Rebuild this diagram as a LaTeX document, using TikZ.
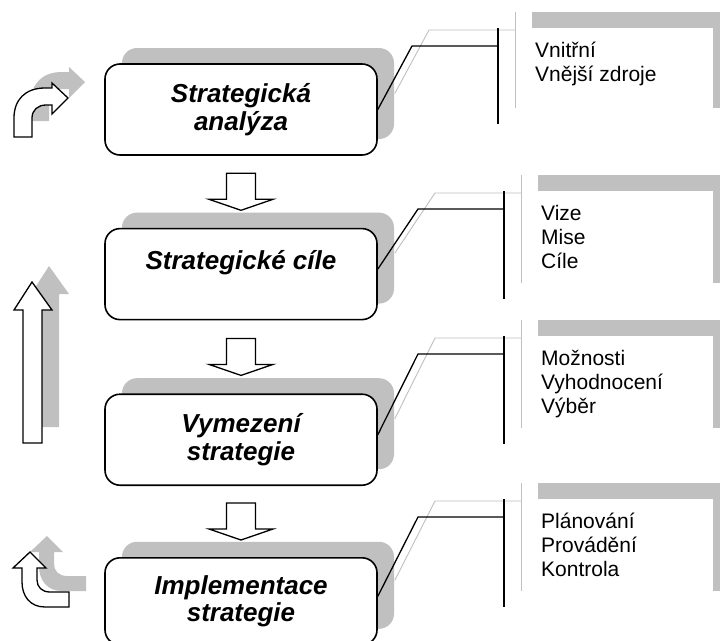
\documentclass[tikz,border=0pt]{standalone}
\usepackage{fontspec}
\setmainfont{Liberation Sans}
\usetikzlibrary{calc,positioning,shadows}
\definecolor{cShade}{RGB}{192,192,192}
\tikzset{
  stepbox/.style={draw, fill=white, line width=1.6pt, rounded corners=15pt,
    minimum width=272pt, minimum height=91pt, align=center,
    font=\bfseries\itshape\fontsize{26}{27.5}\selectfont,
    drop shadow={shadow xshift=17pt, shadow yshift=16pt, opacity=1, fill=cShade}},
  listbox/.style={fill=white, anchor=north west, inner sep=0pt,
    minimum width=192pt, minimum height=108pt,
    drop shadow={shadow xshift=17pt, shadow yshift=16pt, opacity=1, fill=cShade}},
  listtext/.style={anchor=north west, inner sep=0pt, align=left,
    font=\fontsize{21}{24}\selectfont, execute at begin node=\strut},
  link/.style={line width=1.3pt},
  linkshade/.style={cShade, line width=0.9pt},
  blockline/.style={draw, fill=white, line width=1.3pt},
  blockshade/.style={blockline, preaction={fill=cShade, transform canvas={shift={(17pt,16pt)}}}},
  blockdown/.pic={\path[blockline] (-14.5,-18.5) -- (14.5,-18.5) -- (14.5,7.5) -- (32,7.5)
    -- (0,18.5) -- (-32,7.5) -- (-14.5,7.5) -- cycle;}
}
\begin{document}
\begin{tikzpicture}[x=1pt,y=-1pt]
  \fill[white] (0,0) rectangle (720,640);
  \useasboundingbox (0,0) rectangle (720,640);

  % the four steps
  \node[stepbox] (analyza) at (241,109.5) {Strategická\\analýza};
  \node[stepbox, below=72pt of analyza] (cile) {Strategické cíle\\\mbox{}};
  \node[stepbox, below=73pt of cile] (vymezeni) {Vymezení\\strategie};
  \node[stepbox, below=71pt of vymezeni, minimum height=87pt] (implementace) {Implementace\\strategie};

  \pic at ($(analyza.south)!.5!(cile.north)$) {blockdown};
  \pic at ($(cile.south)!.5!(vymezeni.north)$) {blockdown};
  \pic at ($(vymezeni.south)!.5!(implementace.north)$) {blockdown};

  % lists on the right
  \node[listbox, minimum width=198pt, minimum height=96pt] (zdroje) at (515,28) {};
  \node[listbox] (vize) at (521,191) {};
  \node[listbox] (moznosti) at (521,336) {};
  \node[listbox] (planovani) at (521,499) {};

  \node[listtext] (zdrojetxt) at ([shift={(20,14)}]zdroje.north west) {Vnitřní\\Vnější zdroje};
  \node[listtext] (vizetxt) at ([shift={(20,14)}]vize.north west) {Vize\\Mise\\Cíle};
  \node[listtext] (moznostitxt) at ([shift={(20,14)}]moznosti.north west) {Možnosti\\Vyhodnocení\\Výběr};
  \node[listtext] (planovanitxt) at ([shift={(20,14)}]planovani.north west) {Plánování\\Provádění\\Kontrola};

  \foreach \b/\l/\s in {analyza/zdroje/0, cile/vize/5, vymezeni/moznosti/5, implementace/planovani/5}{
    \draw[linkshade] ([shift={(17,{-16-\s})}]\b.east) -- ([shift={(-86,2)}]\l.north west) -- ([shift={(0,2)}]\l.north west);
    \draw[linkshade] ([yshift=16pt]\l.north west) -- ([yshift=16pt]\l.south west);
    \draw[link] ([shift={(0,-\s)}]\b.east) -- ([shift={(-103,18)}]\l.north west) -- ([shift={(-17,18)}]\l.north west);
    \draw[link] ([xshift=-17pt]\l.north west) -- ([xshift=-17pt]\l.south west);
  }

  % feedback arrows on the left
  \path[blockshade] (14,137) -- (14,118) .. controls (14,100) and (25,88) .. (45,88) -- (52,88) -- (52,83)
    -- (68,98) -- (52,114) -- (52,105) -- (46,105) .. controls (38,105) and (32,110) .. (32,118) -- (32,137) -- cycle;
  \path[blockshade] (23,443) -- (23,310) -- (14,310) -- (32,282) -- (52,310) -- (42,310) -- (42,443) -- cycle;
  \path[blockshade] (69,607) -- (45,607) .. controls (30,607) and (22,596) .. (22,582) -- (22,568) -- (13,568)
    -- (30,552) -- (46,568) -- (37,568) -- (37,580) .. controls (37,587) and (42,592) .. (50,592) -- (69,592) -- cycle;
\end{tikzpicture}
\end{document}
